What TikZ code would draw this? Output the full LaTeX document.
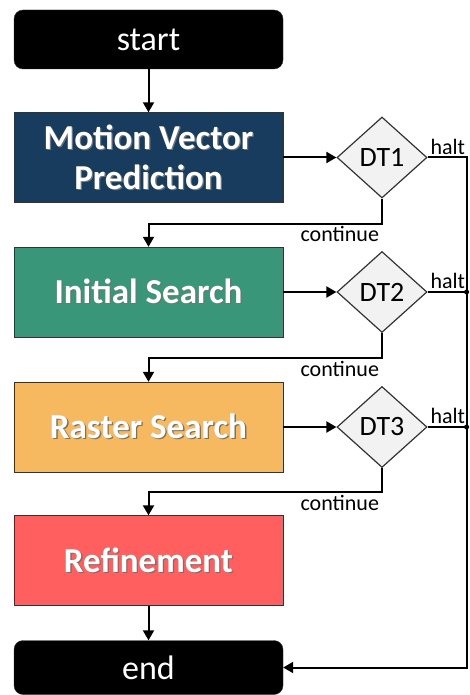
\documentclass[tikz,border=0pt]{standalone}
\usepackage{fontspec}
\setmainfont{Carlito}
\usepackage{tikz}
\usetikzlibrary{positioning}
\usetikzlibrary{arrows.meta}
\usetikzlibrary{shapes}

\definecolor{mvblue}{RGB}{24,60,93}
\definecolor{isgreen}{RGB}{58,150,120}
\definecolor{rsorange}{RGB}{246,185,95}
\definecolor{refred}{RGB}{255,95,95}

\newcommand{\shadowtxt}[1]{\leavevmode\rlap{\hspace{1.3pt}\raisebox{-1.3pt}{\textcolor{black!55}{#1}}}#1}

\begin{document}
\begin{tikzpicture}[
    x=1pt, y=1pt,
    node distance=134.5pt and 233.5pt, % box pitch and box-to-test spacing
    ]
% -------------------------------------------------
\tikzset{
  base/.style={draw=black!80, on grid, align=center, inner sep=0pt, minimum width=269pt, text=white},
  term/.style={base, fill=black, rounded corners=9pt, font=\fontsize{34}{40}\selectfont},
  proc/.style={base, rectangle, minimum height=90pt, font=\bfseries\fontsize{35}{40}\selectfont},
  test/.style={on grid, diamond, draw=black!80, fill=black!5, line width=1.2pt, inner sep=0pt, minimum width=90pt, minimum height=81pt, font=\fontsize{28}{30}\selectfont},
  note/.style={inner sep=2pt, font=\fontsize{22}{24}\selectfont},
  wire/.style={draw, line width=2pt},
  line/.style={wire, -{Triangle[length=10pt,width=11pt]}},
  dot/.style={circle, fill=black, inner sep=0pt, minimum size=5pt}
}
\useasboundingbox (0,0) rectangle (469,-695);

\node [term, minimum height=59pt] (start) at (148.5,-39.5) {start};
\node [proc, fill=mvblue, below=118pt of start] (mvp) {\shadowtxt{Motion Vector}\\\shadowtxt{Prediction}};
\node [proc, fill=isgreen, below=of mvp] (ins) {\shadowtxt{Initial Search}};
\node [proc, fill=rsorange, below=135pt of ins] (rs) {\shadowtxt{Raster Search}};
\node [proc, fill=refred, below=133.5pt of rs] (ref) {\shadowtxt{Refinement}};
\node [term, minimum height=54pt, below=107pt of ref] (end) {end};

\node [test, right=of mvp] (dt1) {DT1};
\node [test, right=of ins] (dt2) {DT2};
\node [test, right=of rs] (dt3) {DT3};

\coordinate [right=39pt of dt1.east] (bus);
\coordinate (j2) at (bus |- dt2.east);
\coordinate (j3) at (bus |- dt3.east);

\path [line] (start) -- (mvp);
\path [line] (mvp) -- (dt1);
\path [line] (ins) -- (dt2);
\path [line] (rs) -- (dt3);
\path [line] (ref) -- (end);

\path [line] (dt1.south) -- ++(0,-25) node [note, below left] {continue} -| (ins.north);
\path [line] (dt2.south) -- ++(0,-25) node [note, below left] {continue} -| (rs.north);
\path [line] (dt3.south) -- ++(0,-24) node [note, below left] {continue} -| (ref.north);

\path [line] (dt1.east) node [note, above right] {halt} -- (bus) |- (end.east);
\path [wire] (dt2.east) node [note, above right] {halt} -- (j2) node [dot] {};
\path [wire] (dt3.east) node [note, above right] {halt} -- (j3) node [dot] {};

\end{tikzpicture}
\end{document}
